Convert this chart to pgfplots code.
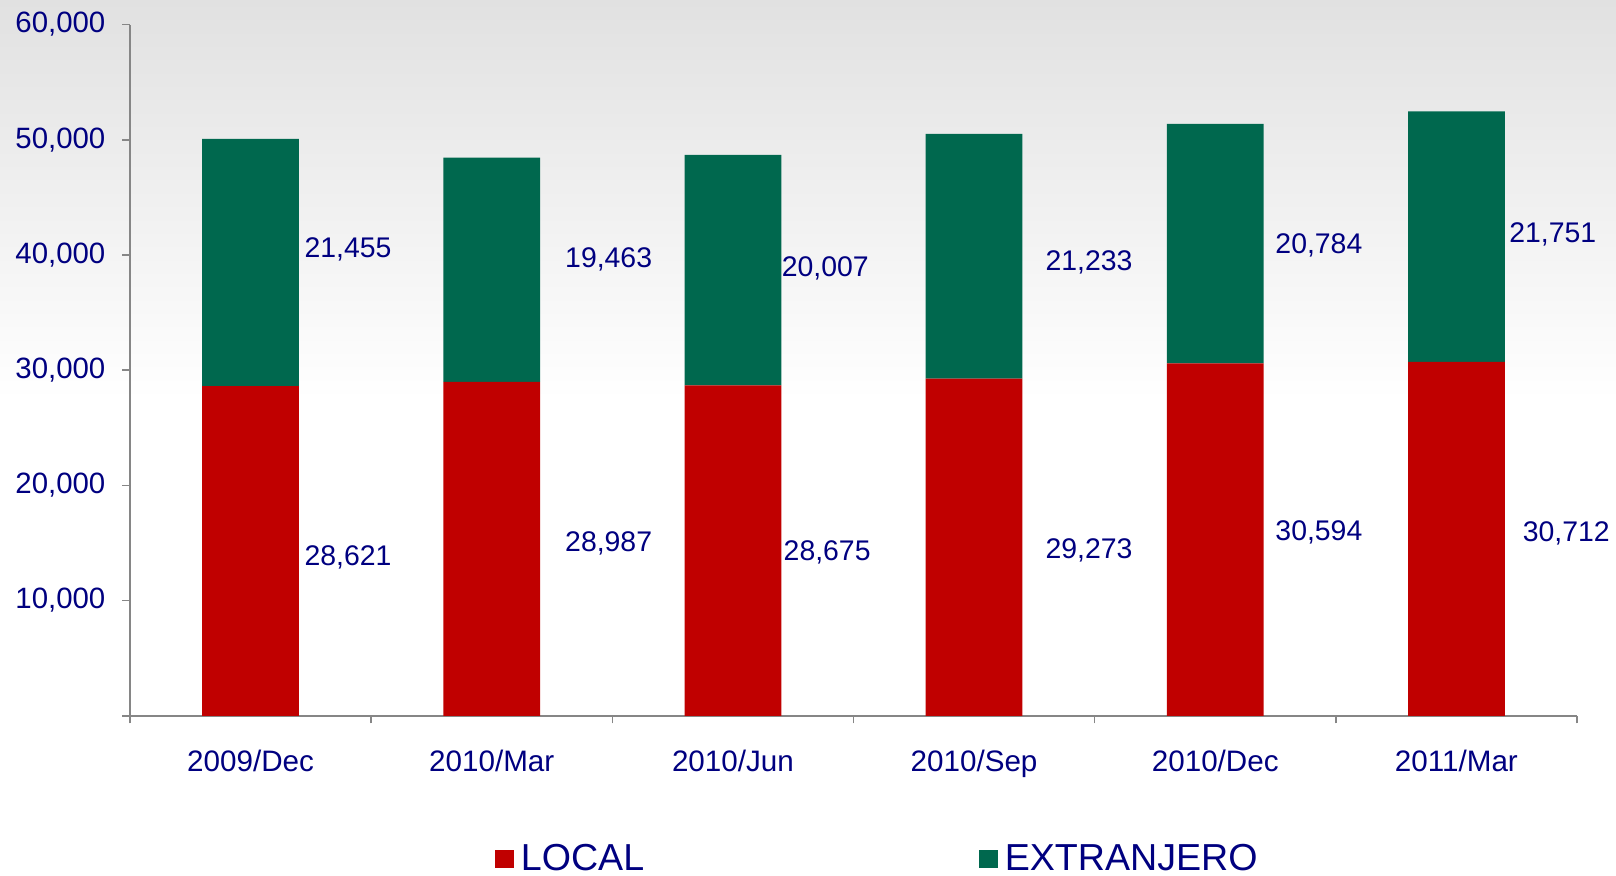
\documentclass[border=0pt]{standalone}
\usepackage{pgfplots}
\pgfplotsset{compat=1.18}
\usepackage{pgfplotstable}
\usepackage{fontspec}
\setmainfont{Liberation Sans}
\definecolor{navytext}{RGB}{0,0,128}
\definecolor{localred}{RGB}{192,0,0}
\definecolor{extgreen}{RGB}{0,104,78}
\definecolor{axisgray}{RGB}{134,134,134}
\newcommand\tickfont{\fontsize{14.7}{17}\selectfont}
\newcommand\catfont{\fontsize{14.8}{17}\selectfont}
\newcommand\lblfont{\fontsize{14.2}{17}\selectfont}
\newcommand\legfont{\fontsize{18.8}{22}\selectfont}
\tikzset{vlbl/.style={anchor=west, font=\lblfont, text=navytext, inner sep=0pt}}

\pgfplotstableread{
x local ext
0 28621 21455
1 28987 19463
2 28675 20007
3 29273 21233
4 30594 20784
5 30712 21751
}\datatable

\begin{document}
\begin{tikzpicture}
\useasboundingbox (-65pt,-80pt) rectangle (743pt,357.9pt);
\fill[white] (-65pt,-80pt) rectangle (743pt,357.9pt);
\shade[top color={rgb,255:red,225;green,225;blue,225}, bottom color=white] (-65pt,157.9pt) rectangle (743pt,357.9pt);
\begin{axis}[
  at={(0pt,0pt)}, anchor=south west,
  scale only axis, width=723.5pt, height=345.6pt,
  xmin=-0.5, xmax=5.5, ymin=0, ymax=60000,
  clip=false,
  ybar stacked, bar width=48.4pt,
  axis x line*=bottom, axis y line*=left,
  axis line style={-, draw=axisgray, line width=0.8pt},
  xtick={-0.5,0.5,1.5,2.5,3.5,4.5,5.5},
  xticklabels={,,,,,,},
  extra x ticks={0,1,2,3,4,5},
  extra x tick labels={2009/Dec,2010/Mar,2010/Jun,2010/Sep,2010/Dec,2011/Mar},
  extra x tick style={major tick length=0pt},
  xticklabel style={font=\catfont, text=navytext, yshift=-13.5pt},
  scaled y ticks=false,
  ytick={0,10000,20000,30000,40000,50000,60000},
  yticklabels={{},{10,000},{20,000},{30,000},{40,000},{50,000},{60,000}},
  yticklabel style={font=\tickfont, text=navytext, xshift=-5pt},
  tick align=outside, major tick length=3.8pt,
  tick style={draw=axisgray, line width=0.8pt},
  legend columns=2,
  legend style={at={(0.2522,-0.207)}, anchor=west, draw=none, fill=none,
    inner sep=0pt, font=\legfont, text=navytext,
    /tikz/every even column/.append style={column sep=165.5pt}},
  legend image code/.code={\fill[#1] (0pt,-4.65pt) rectangle (9.3pt,4.65pt);},
]
\addplot[fill=localred, draw=none] table[x=x, y=local] {\datatable};
\addlegendentry{\hspace{1.5pt}LOCAL}
\addplot[fill=extgreen, draw=none] table[x=x, y=ext] {\datatable};
\addlegendentry{\hspace{1.5pt}EXTRANJERO}

\node[vlbl] at (axis cs:0.222,40510) {21,455};
\node[vlbl] at (axis cs:1.303,39610) {19,463};
\node[vlbl] at (axis cs:2.201,38810) {20,007};
\node[vlbl] at (axis cs:3.295,39350) {21,233};
\node[vlbl] at (axis cs:4.248,40870) {20,784};
\node[vlbl] at (axis cs:5.218,41760) {21,751};
\node[vlbl] at (axis cs:0.222,13770) {28,621};
\node[vlbl] at (axis cs:1.303,14930) {28,987};
\node[vlbl] at (axis cs:2.209,14220) {28,675};
\node[vlbl] at (axis cs:3.295,14400) {29,273};
\node[vlbl] at (axis cs:4.248,15920) {30,594};
\node[vlbl] at (axis cs:5.274,15830) {30,712};
\end{axis}
\end{tikzpicture}
\end{document}
